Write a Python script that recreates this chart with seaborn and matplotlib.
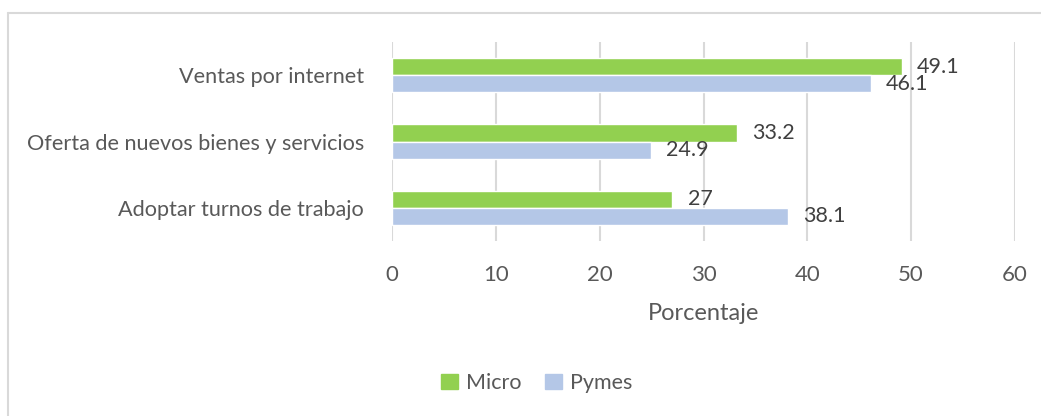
import matplotlib
matplotlib.use("Agg")
import matplotlib.pyplot as plt
from matplotlib.lines import Line2D
import seaborn as sns
import pandas as pd

categories = ["Ventas por internet", "Oferta de nuevos bienes y servicios", "Adoptar turnos de trabajo"]
micro = [49.1, 33.2, 27]
pymes = [46.1, 24.9, 38.1]
series = ["Micro", "Pymes"]
xticks = [0, 10, 20, 30, 40, 50, 60]

df = pd.DataFrame({
    "Categoria": categories * 2,
    "Valor": micro + pymes,
    "Serie": [series[0]] * len(categories) + [series[1]] * len(categories),
})

sns.set_theme(style="white")
plt.rcParams["font.family"] = ["Lato", "DejaVu Sans"]

W, H = 1041, 416
fig = plt.figure(figsize=(W / 100, H / 100), dpi=100)
ax = fig.add_axes([392 / W, 1 - 241 / H, (1015 - 392) / W, (241 - 42) / H])

colors = {"Micro": "#92D050", "Pymes": "#B4C7E7"}
sns.barplot(data=df, x="Valor", y="Categoria", hue="Serie", order=categories,
            hue_order=series, palette=colors, orient="h", width=0.52,
            saturation=1, ax=ax, legend=False, zorder=3)

ax.set_xlim(0, 60)
ax.set_xticks(xticks)
ax.set_xticklabels([str(t) for t in xticks])
ax.grid(axis="x", color="#D9D9D9", linewidth=1.5, zorder=0)
ax.set_axisbelow(True)
for s in ax.spines.values():
    s.set_visible(False)
ax.tick_params(axis="x", length=0, pad=17, labelsize=16, labelcolor="#595959")
ax.tick_params(axis="y", length=0, pad=20, labelsize=15.6, labelcolor="#595959")
ax.set_ylabel("")
ax.set_xlabel("Porcentaje", fontsize=17, color="#595959", labelpad=13)

for cont, vals in zip(ax.containers, [micro, pymes]):
    ax.bar_label(cont, labels=[f"{v:g}" for v in vals], padding=11,
                 fontsize=15.5, color="#404040")

handles = [plt.Rectangle((0, 0), 1, 1, color=colors[s]) for s in series]
fig.legend(handles, series, loc="center", bbox_to_anchor=(537 / W, 1 - 383 / H),
           ncol=2, frameon=False, handlelength=0.75, handleheight=0.75,
           handletextpad=0.4, columnspacing=1.1, fontsize=15.5,
           labelcolor="#595959")

# chart-area border (top and left edges visible)
border = "#D9D9D9"
fig.add_artist(Line2D([8 / W, 1.0], [1 - 13 / H, 1 - 13 / H], color=border, linewidth=1.5,
                      transform=fig.transFigure))
fig.add_artist(Line2D([8 / W, 8 / W], [1 - 13 / H, 0.0], color=border, linewidth=1.5,
                      transform=fig.transFigure))

fig.savefig("out.png", dpi=100, facecolor="white")
